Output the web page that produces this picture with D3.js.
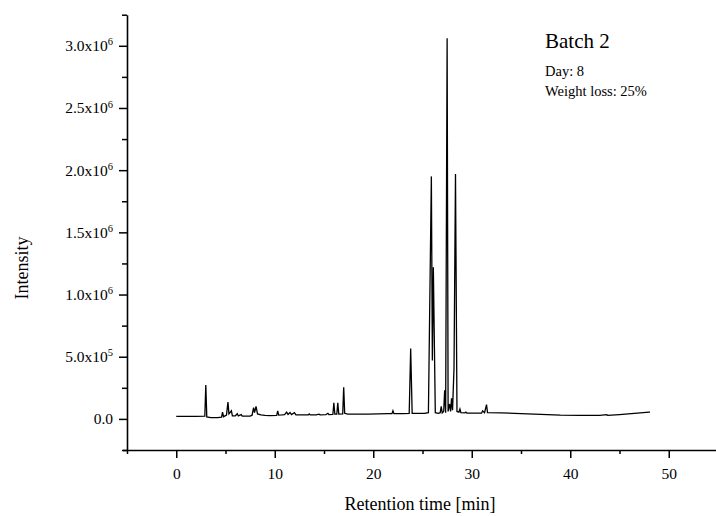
<!DOCTYPE html>
<html>
<head>
<meta charset="utf-8">
<script src="https://cdn.jsdelivr.net/npm/d3@7"></script>
<style>
  body { margin: 0; background: #fff; }
  svg { display: block; }
  svg text { font-family: "Liberation Serif", "Times New Roman", serif; }
</style>
</head>
<body>
<svg id="chart" width="716" height="516"></svg>
<script>
// chromatogram: [retention time (min), intensity]
const trace = [
  [0.0, 2.0e4], [1.0, 2.0e4], [2.0, 2.1e4], [2.9, 2.2e4], [3.0, 2.72e5], [3.1, 1.6e4],
  [3.5, 1.0e4], [4.2, 1.1e4], [4.6, 1.5e4], [4.7, 5.5e4], [4.8, 1.8e4], [5.1, 3.0e4],
  [5.25, 1.35e5], [5.35, 4.0e4], [5.6, 6.5e4], [5.7, 2.5e4], [6.0, 2.5e4], [6.2, 4.2e4],
  [6.3, 2.4e4], [6.6, 3.5e4], [6.7, 2.2e4], [7.5, 2.3e4], [7.7, 3.0e4], [7.85, 9.0e4],
  [7.95, 5.0e4], [8.1, 1.0e5], [8.25, 4.0e4], [8.6, 3.2e4], [9.0, 2.8e4], [9.5, 2.7e4],
  [10.2, 2.8e4], [10.3, 6.5e4], [10.4, 3.0e4], [10.7, 3.2e4], [11.0, 3.5e4], [11.2, 5.5e4],
  [11.35, 3.6e4], [11.55, 5.2e4], [11.7, 3.5e4], [12.0, 5.0e4], [12.15, 3.3e4], [12.8, 3.2e4],
  [13.4, 3.2e4], [13.5, 4.0e4], [13.6, 3.2e4], [14.2, 3.3e4], [14.5, 3.8e4], [14.6, 3.3e4],
  [15.2, 3.5e4], [15.4, 4.5e4], [15.5, 3.5e4], [15.9, 3.6e4], [16.0, 1.3e5], [16.1, 3.8e4],
  [16.3, 3.8e4], [16.4, 1.3e5], [16.5, 3.9e4], [16.9, 4.0e4], [17.0, 2.55e5], [17.1, 4.5e4],
  [17.4, 3.9e4], [18.5, 3.8e4], [19.5, 3.9e4], [20.5, 4.0e4], [21.5, 4.2e4], [21.9, 4.2e4],
  [22.0, 6.5e4], [22.1, 4.2e4], [23.0, 4.3e4], [23.65, 4.4e4], [23.8, 5.65e5], [23.95, 4.5e4],
  [24.5, 4.4e4], [25.2, 4.5e4], [25.6, 5.0e4], [25.9, 1.95e6], [26.0, 4.7e5], [26.1, 1.22e6],
  [26.3, 5.0e4], [26.6, 4.5e4], [26.8, 5.0e4], [26.9, 1.0e5], [27.0, 4.8e4], [27.15, 6.0e4],
  [27.25, 2.3e5], [27.35, 5.0e4], [27.5, 3.06e6], [27.6, 6.0e4], [27.75, 1.2e5], [27.85, 6.0e4],
  [27.95, 1.65e5], [28.05, 7.0e4], [28.2, 4.1e5], [28.35, 1.97e6], [28.5, 6.0e4], [28.7, 5.5e4],
  [28.8, 8.0e4], [28.9, 5.0e4], [29.3, 4.8e4], [29.4, 5.5e4], [29.5, 4.7e4], [30.0, 4.6e4],
  [31.0, 4.6e4], [31.1, 6.5e4], [31.3, 5.0e4], [31.5, 1.15e5], [31.6, 5.0e4], [33.0, 4.8e4],
  [35.0, 4.3e4], [37.0, 3.6e4], [39.0, 3.0e4], [41.0, 2.8e4], [43.0, 2.8e4], [43.7, 3.4e4],
  [43.8, 2.9e4], [45.0, 3.5e4], [46.5, 4.5e4], [48.0, 5.5e4], [48.1, 5.5e4]
];

const xMajor = [0, 10, 20, 30, 40, 50];
const xMinor = [-5, 5, 15, 25, 35, 45, 55];
const yMajor = [0, 5e5, 1e6, 1.5e6, 2e6, 2.5e6, 3e6];
const yMinor = [-2.5e5, 2.5e5, 7.5e5, 1.25e6, 1.75e6, 2.25e6, 2.75e6, 3.25e6];
const infoLines = ["Day: 8", "Weight loss: 25%"];

const svg = d3.select("#chart");

// scales
const x = d3.scaleLinear().domain([-5, 55]).range([127, 718]);
const y = d3.scaleLinear().domain([-2.5e5, 3.25e6]).range([450, 14.7]);

// y tick label like 1.5x10^6
function sciLabel(sel) {
  sel.each(function(d) {
    const t = d3.select(this).text(null);
    if (d === 0) { t.text("0.0"); return; }
    const e = Math.floor(Math.log10(d));
    t.append("tspan").text((d / Math.pow(10, e)).toFixed(1) + "x10");
    t.append("tspan").attr("dy", "-0.55em").attr("font-size", "10.5px").text(e);
  });
}

// axes: minor first, then major
svg.append("g")
  .attr("transform", "translate(0,450)")
  .call(d3.axisBottom(x).tickValues(xMinor).tickSize(4).tickFormat(""))
  .call(g => g.select(".domain").remove());
svg.append("g")
  .attr("transform", "translate(127,0)")
  .call(d3.axisLeft(y).tickValues(yMinor).tickSize(5).tickFormat(""))
  .call(g => g.select(".domain").remove());

const xAx = svg.append("g")
  .attr("transform", "translate(0,450)")
  .call(d3.axisBottom(x).tickValues(xMajor).tickSize(8).tickSizeOuter(0).tickPadding(10));

const yAx = svg.append("g")
  .attr("transform", "translate(127,0)")
  .call(d3.axisLeft(y).tickValues(yMajor).tickSize(8).tickSizeOuter(0).tickPadding(6));
yAx.selectAll("text").call(sciLabel);

svg.selectAll("g").attr("font-family", null).attr("font-size", null);
svg.selectAll(".tick text").attr("font-size", "15.5px");
svg.selectAll(".domain").attr("stroke-width", 1.6);
svg.selectAll(".tick line").attr("stroke-width", 1.5);
// x axis line reaches a touch left of the y axis
xAx.select(".domain").attr("d", "M123,0.5H716");

// trace
const line = d3.line()
  .x(d => x(d[0]))
  .y(d => y(d[1]));

svg.append("path")
  .datum(trace)
  .attr("fill", "none")
  .attr("stroke", "#000")
  .attr("stroke-width", 1.3)
  .attr("d", line);

// titles
svg.append("text")
  .attr("x", 420).attr("y", 510)
  .attr("text-anchor", "middle")
  .attr("font-size", "18px")
  .text("Retention time [min]");

svg.append("text")
  .attr("transform", "translate(28,268) rotate(-90)")
  .attr("text-anchor", "middle")
  .attr("font-size", "18px")
  .text("Intensity");

svg.append("text")
  .attr("x", 545).attr("y", 48)
  .attr("font-size", "21px")
  .text("Batch 2");

svg.selectAll(".info")
  .data(infoLines)
  .join("text")
  .attr("class", "info")
  .attr("x", 545)
  .attr("y", (d, i) => 76 + i * 20)
  .attr("font-size", "14.5px")
  .text(d => d);
</script>
</body>
</html>
